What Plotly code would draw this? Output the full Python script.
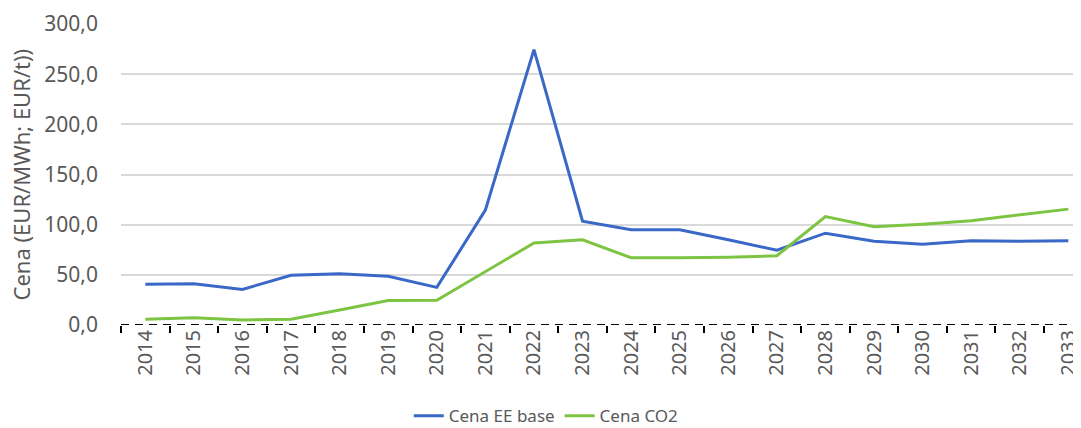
import plotly.graph_objects as go

years = [str(y) for y in range(2014, 2034)]
cena_ee_base = [40.5, 41.0, 35.5, 49.5, 51.0, 48.5, 37.5, 114.5, 274.5, 103.5,
                95.0, 95.0, 85.0, 74.5, 91.5, 83.5, 80.5, 84.0, 83.5, 84.0]
cena_co2 = [5.7, 7.2, 5.0, 5.7, 15.0, 24.5, 24.7, 53.0, 81.7, 85.0,
            67.0, 67.0, 67.5, 69.0, 108.0, 98.0, 100.5, 104.0, 109.5, 115.5]
y_ticks = [0, 50, 100, 150, 200, 250, 300]
y_title = "Cena (EUR/MWh; EUR/t))"

FONT = "Noto Sans"
GRAY = "#595959"

fig = go.Figure()
fig.add_trace(go.Scatter(x=years, y=cena_ee_base, mode="lines", name="Cena EE base",
                         line=dict(color="#3A68C6", width=3)))
fig.add_trace(go.Scatter(x=years, y=cena_co2, mode="lines", name="Cena CO2",
                         line=dict(color="#7DC443", width=3)))

fig.add_shape(type="line", xref="paper", yref="y", x0=0, x1=1, y0=0, y1=0,
              line=dict(color="black", width=2, dash="8px,6px"), layer="above")

fig.add_annotation(text=y_title, xref="paper", yref="paper", x=0, y=0.5,
                   xshift=-101, xanchor="center", yanchor="middle", textangle=-90,
                   showarrow=False, font=dict(size=22, color=GRAY, family=FONT))

fig.update_layout(
    width=1073, height=420,
    margin=dict(l=113, r=0, t=16, b=103, autoexpand=False),
    paper_bgcolor="white", plot_bgcolor="white",
    font=dict(family=FONT, color=GRAY, size=20),
    showlegend=True,
    legend=dict(orientation="h", x=0.443, xanchor="center", y=-0.303, yanchor="middle",
                font=dict(size=17, color=GRAY), itemwidth=30, tracegroupgap=0),
    separators=",.",
)
fig.update_xaxes(type="category", range=[-0.5, 19.26], showgrid=False, zeroline=False,
                 showline=False, ticks="outside", tickson="boundaries", ticklen=7,
                 tickwidth=2, tickcolor="black", tickangle=-90, automargin=False,
                 tickfont=dict(size=20, color=GRAY, family=FONT))
fig.update_yaxes(range=[0, 300], tickvals=y_ticks, tickformat=".1f",
                 showgrid=True, gridcolor="#D9D9D9", gridwidth=1.5, zeroline=False,
                 showline=False, ticks="", ticklabelstandoff=22, automargin=False,
                 tickfont=dict(size=21, color=GRAY, family=FONT))

fig.write_html("out.html")
